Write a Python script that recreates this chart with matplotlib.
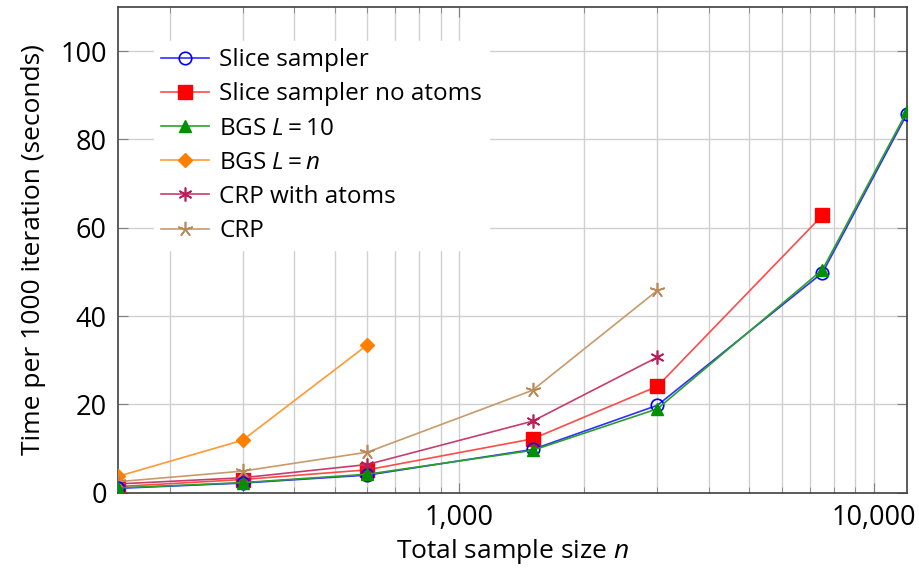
import numpy as np
import matplotlib.pyplot as plt
from matplotlib.ticker import FixedLocator, FuncFormatter, LogLocator, NullFormatter

plt.rcParams['font.family'] = ['Open Sans', 'DejaVu Sans']
plt.rcParams['mathtext.fontset'] = 'custom'
plt.rcParams['mathtext.rm'] = 'Open Sans'
plt.rcParams['mathtext.it'] = 'Open Sans:italic'

# sample sizes
n_full = [150, 300, 600, 1500, 3000, 7500, 12000]

slice_sampler = [1.0, 2.2, 4.0, 9.8, 19.8, 49.8, 85.8]
slice_no_atoms = [1.4, 3.0, 5.2, 12.2, 24.1, 62.8]
bgs_10 = [1.1, 2.3, 4.2, 9.6, 19.0, 50.5, 86.4]
bgs_n = [3.7, 11.9, 33.5]
crp_atoms = [2.0, 3.4, 6.4, 16.2, 30.7]
crp = [2.5, 4.9, 9.2, 23.2, 45.8]

fig = plt.figure(figsize=(9.2, 5.71), dpi=100)
ax = fig.add_axes([0.128, 0.137, 0.858, 0.851])

ax.plot(n_full, slice_sampler, color='#3030ff', lw=1.2, marker='o', ms=9,
        mfc='none', mec='blue', mew=1.2, label='Slice sampler', zorder=5)
ax.plot(n_full[:6], slice_no_atoms, color='#ff4a4a', lw=1.2, marker='s', ms=10,
        mfc='red', mec='red', label='Slice sampler no atoms', zorder=4)
ax.plot(n_full, bgs_10, color='#2aa02a', lw=1.2, marker='^', ms=9,
        mfc='#009000', mec='#009000', label='BGS $L = 10$', zorder=6)
ax.plot(n_full[:3], bgs_n, color='#ff9a33', lw=1.2, marker='D', ms=7,
        mfc='#ff8000', mec='#ff8000', label='BGS $L = n$', zorder=4)
ax.plot(n_full[:5], crp_atoms, color='#c83c6e', lw=1.2, marker=(6, 2, 0), ms=10,
        mec='#b8205a', mew=1.2, label='CRP with atoms', zorder=4)
ax.plot(n_full[:5], crp, color='#c89a6a', lw=1.2, marker=(5, 2, 0), ms=11,
        mec='#b98a5a', mew=1.2, label='CRP', zorder=4)

ax.set_xscale('log')
ax.set_xlim(150, 12000)
ax.set_ylim(0, 110)

ax.xaxis.set_major_locator(FixedLocator([1000, 10000]))
ax.xaxis.set_major_formatter(FuncFormatter(lambda v, p: f'{int(v):,}'))
ax.xaxis.set_minor_locator(LogLocator(base=10, subs=np.arange(2, 10), numticks=20))
ax.xaxis.set_minor_formatter(NullFormatter())
ax.set_yticks([0, 20, 40, 60, 80, 100])

ax.grid(True, which='both', axis='x', color='#d0d0d0', lw=1)
ax.grid(True, which='major', axis='y', color='#d0d0d0', lw=1)
ax.set_axisbelow(True)

ax.tick_params(which='both', direction='in', top=True, right=True,
               labelsize=19.5, color='#808080')
ax.tick_params(which='major', length=7, pad=8)
ax.tick_params(which='minor', length=4)
for s in ax.spines.values():
    s.set_color('#404040')
    s.set_linewidth(1.2)

ax.set_xlabel('Total sample size $n$', fontsize=19, labelpad=4)
ax.set_ylabel('Time per 1000 iteration (seconds)', fontsize=19, labelpad=10)

leg = ax.legend(loc='upper left', bbox_to_anchor=(0.03, 0.955), fontsize=17.5,
                frameon=True, framealpha=1, edgecolor='white', fancybox=False,
                handlelength=2.0, handletextpad=0.4, labelspacing=0.42,
                borderpad=0.3)

fig.savefig('out.png', dpi=100)
